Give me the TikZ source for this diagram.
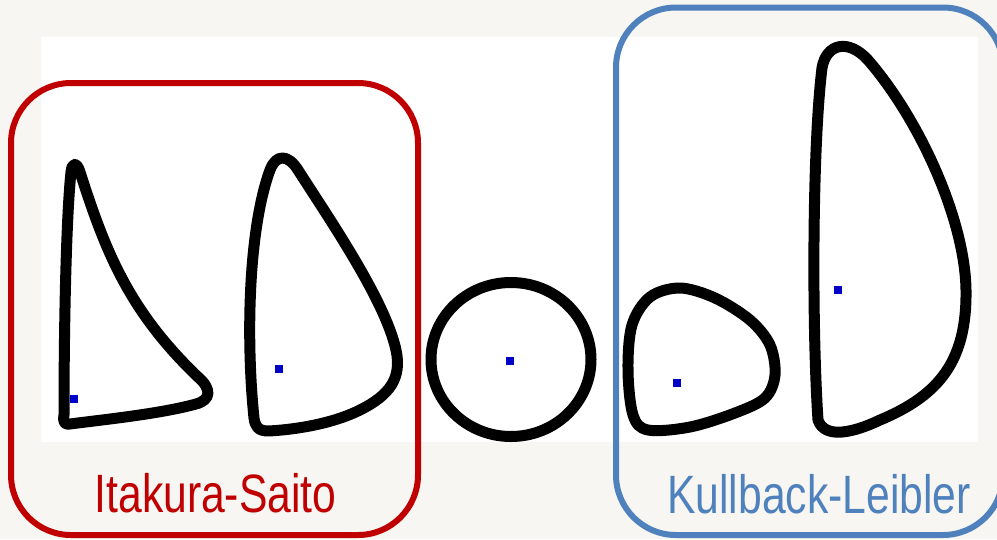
\documentclass[tikz,border=0pt]{standalone}
\usepackage{fontspec}
\setmainfont{Liberation Sans}
\usepackage{graphicx}
\definecolor{bgc}{RGB}{247,246,242}
\definecolor{isred}{RGB}{192,0,0}
\definecolor{klblue}{RGB}{79,129,189}
\definecolor{dotblue}{RGB}{0,0,200}
\tikzset{
  blob/.style={draw=black, line width=11pt, line join=round},
  dot/.style={fill=dotblue, draw=none, minimum size=8pt, inner sep=0pt, rectangle},
  groupbox/.style={line width=6pt, rounded corners=60pt},
  lab/.style={inner sep=0pt, anchor=base, font=\fontsize{54}{60}\selectfont}
}
\begin{document}
\begin{tikzpicture}[x=1pt,y=-1pt]
\useasboundingbox (0,0) rectangle (997,539);
\clip (0,0) rectangle (997,539);
\fill[bgc] (0,0) rectangle (997,539);
\fill[white] (41,37) rectangle (978,442);

% shape 1
\draw[blob] (64,415) .. controls (64,330) and (66,220) .. (71,172)
  .. controls (72,162) and (77,162) .. (80,172)
  .. controls (105,250) and (128,310) .. (198,377)
  .. controls (212,389) and (211,400) .. (196,404)
  .. controls (160,414) and (100,420) .. (70,424)
  .. controls (64,425) and (63,422) .. (64,415) -- cycle;
% shape 2
\draw[blob] (254,418) .. controls (246,340) and (248,230) .. (270,170)
  .. controls (276,154) and (288,154) .. (298,170)
  .. controls (330,220) and (385,300) .. (396,350)
  .. controls (402,378) and (390,395) .. (360,410)
  .. controls (330,425) and (290,430) .. (268,431)
  .. controls (258,431) and (255,426) .. (254,418) -- cycle;
% circle
\draw[blob] (511,359.5) ellipse [x radius=80, y radius=77];
% shape 4
\draw[blob] plot[smooth cycle, tension=0.55] coordinates {(628,370) (632,325) (650,297) (680,288) (715,298) (750,320) (770,345) (775,375) (765,398) (735,413) (690,427) (648,430) (633,415)};
% shape 5
\draw[blob] (818,420) .. controls (812,330) and (812,150) .. (822,68)
  .. controls (826,44) and (848,38) .. (868,60)
  .. controls (920,120) and (965,220) .. (966,290)
  .. controls (967,360) and (940,395) .. (880,420)
  .. controls (855,432) and (825,440) .. (818,420) -- cycle;

% centres
\node[dot] (d1) at (74,399) {};
\node[dot] (d2) at (279,369) {};
\node[dot] (d3) at (510,361) {};
\node[dot] (d4) at (677,383) {};
\node[dot] (d5) at (838,290) {};

% group boxes
\draw[groupbox, draw=isred] (11,83) rectangle (418,535);
\draw[groupbox, draw=klblue] (616,7.5) rectangle (1003,535);

\node[lab, text=isred] (is) at (215.5,512) {\scalebox{0.79}[1]{Itakura-Saito}};
\node[lab, text=klblue] (kl) at (819,513) {\scalebox{0.79}[1]{Kullback-Leibler}};
\end{tikzpicture}
\end{document}
